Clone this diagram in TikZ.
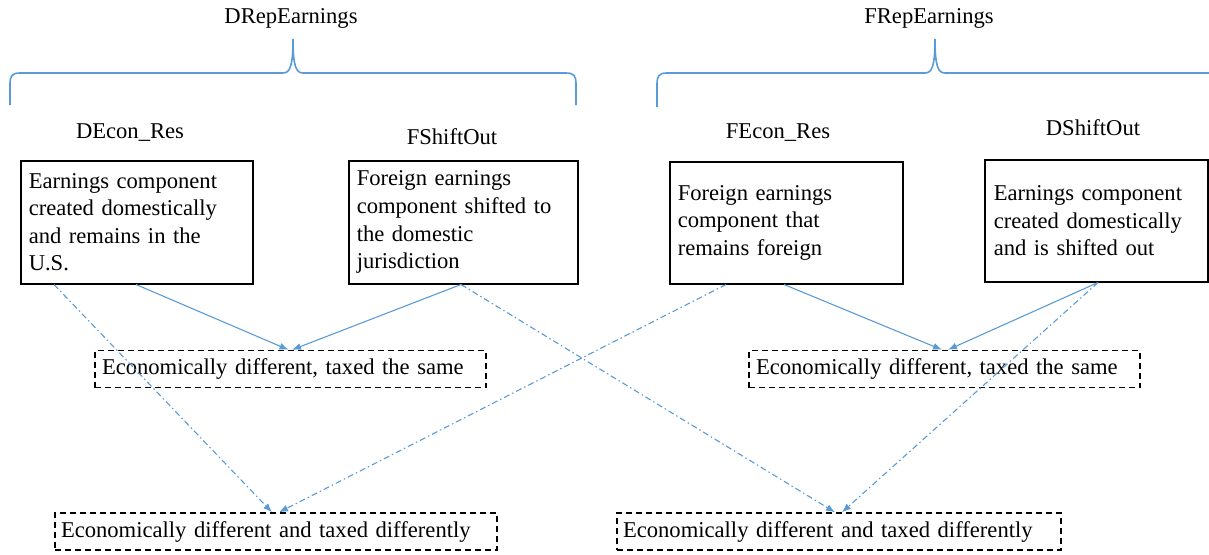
\documentclass[tikz,border=0pt]{standalone}
\usepackage{fontspec}
\setmainfont{Liberation Serif}
\usetikzlibrary{arrows.meta,calc}
\definecolor{wblue}{RGB}{91,155,213}
\tikzset{
  txt/.style={font=\fontsize{22.6}{27.6}\selectfont, inner sep=0pt},
  compbox/.style={draw=black, line width=1.5pt, anchor=north west, align=left,
    font=\fontsize{22.6}{27.6}\selectfont, inner xsep=8pt, inner ysep=0pt},
  resbox/.style={draw=black, line width=1.4pt, dash pattern=on 6pt off 4pt,
    align=left, font=\fontsize{22.6}{27.6}\selectfont, inner xsep=7pt, inner ysep=0pt,
    minimum height=37pt},
  solidarr/.style={draw=wblue, line width=1.1pt, -{Latex[length=9pt,width=7pt]}},
  dasharr/.style={draw=wblue, line width=1.1pt, dash pattern=on 6pt off 3pt on 1.5pt off 3pt,
    -{Latex[length=9pt,width=7pt]}},
  bracestyle/.style={draw=wblue, line width=1.6pt}
}
\begin{document}
\begin{tikzpicture}[x=1pt,y=-1pt]
\useasboundingbox (0,0) rectangle (1209,554);
\clip (0,0) rectangle (1209,554);

% titles
\node[txt] (tD) at (291,18) {DRepEarnings};
\node[txt] (tF) at (929,18) {FRepEarnings};

% braces
\draw[bracestyle] (10,105) -- (10,84) .. controls (10,76) and (12,73) .. (20,73)
  -- (283,73) .. controls (290,73) and (293,66) .. (293,39)
  .. controls (293,66) and (296,73) .. (303,73)
  -- (566,73) .. controls (574,73) and (576,76) .. (576,84) -- (576,105);
\draw[bracestyle] (657,107) -- (657,84) .. controls (657,76) and (659,73) .. (667,73)
  -- (925,73) .. controls (932,73) and (935,66) .. (935,39)
  .. controls (935,66) and (938,73) .. (945,73)
  -- (1230,73);

% labels
\node[txt] (lDE) at (130,133) {DEcon\_Res};
\node[txt] (lFS) at (452,137) {FShiftOut};
\node[txt] (lFE) at (778,133) {FEcon\_Res};
\node[txt] (lDS) at (1093,128) {DShiftOut};

% component boxes
\node[compbox, minimum width=232pt, minimum height=123pt, text width=216pt] (b1) at (20,160)
  {Earnings component\\created domestically\\and remains in the\\U.S.};
\node[compbox, minimum width=229pt, minimum height=123pt, text width=213pt] (b2) at (348,160)
  {Foreign earnings\\component shifted to\\the domestic\\jurisdiction};
\node[compbox, minimum width=233pt, minimum height=122pt, text width=217pt] (b3) at (669,161)
  {Foreign earnings\\component that\\remains foreign};
\node[compbox, minimum width=223pt, minimum height=122pt, text width=205pt, inner xsep=9pt] (b4) at (984,159)
  {Earnings component\\created domestically\\and is shifted out};

% result boxes
\node[resbox, minimum width=391pt, text width=377pt] (mL) at (290.5,369) {Economically different, taxed the same};
\node[resbox, minimum width=391pt, text width=377pt] (mR) at (944.5,369) {Economically different, taxed the same};
\node[resbox, minimum width=442pt, text width=430pt, inner xsep=6pt] (bL) at (276,531.5) {Economically different and taxed differently};
\node[resbox, minimum width=444pt, text width=432pt, inner xsep=6pt] (bR) at (839,531.5) {Economically different and taxed differently};

% solid connectors
\draw[solidarr] ([xshift=116pt]b1.south west) -- ([xshift=-2pt]mL.north);
\draw[solidarr] ([xshift=113pt]b2.south west) -- ([xshift=1.5pt]mL.north);
\draw[solidarr] ([xshift=115pt]b3.south west) -- ([xshift=-2.5pt]mR.north);
\draw[solidarr] ([xshift=114pt]b4.south west) -- ([xshift=3.5pt]mR.north);

% dash-dot connectors
\draw[dasharr] ([xshift=34pt]b1.south west) -- ([xshift=-4pt]bL.north);
\draw[dasharr] ([xshift=57pt]b3.south west) -- ([xshift=3pt]bL.north);
\draw[dasharr] ([xshift=113pt]b2.south west) -- ([xshift=-4pt]bR.north);
\draw[dasharr] ([xshift=114pt]b4.south west) -- ([xshift=3pt]bR.north);
\end{tikzpicture}
\end{document}
